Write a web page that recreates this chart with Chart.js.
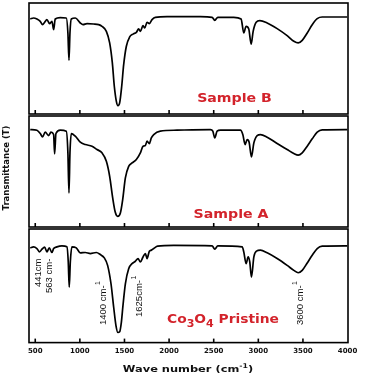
<!DOCTYPE html>
<html>
<head>
<meta charset="utf-8">
<script src="https://cdn.jsdelivr.net/npm/chart.js@4.4.0/dist/chart.umd.min.js"></script>
<style>
  html, body { margin: 0; padding: 0; background: #fff; }
  #wrap { position: relative; width: 365px; height: 379px; overflow: hidden; }
  #wrap canvas { position: absolute; left: 0; }
</style>
</head>
<body>
<div id="wrap">
  <canvas id="panelB" width="365" height="116" style="top:0px"></canvas>
  <canvas id="panelA" width="365" height="116" style="top:114px"></canvas>
  <canvas id="panelP" width="365" height="153" style="top:226px"></canvas>
</div>
<script>
// sumbu x (wave number, cm-1)
const xMin = 430;
const xMax = 4005;
const tickVals = [500, 1000, 1500, 2000, 2500, 3000, 3500, 4000];

// Sample B
const wnB = [444, 481, 519, 556, 582, 605, 631, 661, 687, 706, 724, 780, 848, 866, 878, 889, 904, 949, 1005, 1035,
  1080, 1154, 1211, 1248, 1297, 1334, 1364, 1386, 1409, 1427, 1446, 1469, 1491, 1521, 1558, 1596, 1633, 1659, 1678, 1708,
  1727, 1753, 1779, 1809, 1846, 1977, 2351, 2482, 2512, 2546, 2725, 2807, 2837, 2863, 2893, 2920, 2942, 2976, 3017, 3099,
  3211, 3323, 3398, 3447, 3492, 3548, 3604, 3660, 3716, 3997];
const tB = [85.6, 86.5, 85.6, 83.5, 80.5, 82.6, 85.0, 81.4, 83.5, 76.0, 85.6, 86.8, 86.5, 73, 48.3, 73, 85.6, 86.5, 82, 80.5,
  81.4, 81.1, 80.5, 79, 74.5, 64, 46, 25, 11.4, 7.5, 10, 25, 44.4, 61, 69.4, 72, 73.6, 76.6, 74.5, 79.6,
  77.5, 82.6, 81.4, 85, 87.1, 87.7, 87.7, 87.1, 84.4, 87.1, 87.1, 85.6, 73, 79, 76.6, 63, 74.5, 82.6, 84.1, 82,
  76.9, 70.6, 65.5, 64, 66.4, 73, 80.5, 85.9, 87.4, 87.4];

// Sample A
const wnA = [444, 519, 556, 582, 612, 650, 676, 706, 717, 732, 780, 848, 866, 878, 889, 904, 949, 1005, 1061, 1136,
  1192, 1248, 1297, 1334, 1368, 1397, 1424, 1454, 1480, 1510, 1547, 1585, 1633, 1678, 1708, 1734, 1753, 1779, 1801, 1828,
  1902, 2089, 2463, 2490, 2512, 2538, 2576, 2800, 2826, 2852, 2875, 2897, 2923, 2950, 2987, 3024, 3099, 3211, 3323, 3398,
  3447, 3492, 3548, 3604, 3660, 3716, 3997];
const tA = [87.8, 87.2, 84.2, 81.2, 85.4, 82.4, 85.4, 83.3, 65.9, 84.2, 87.2, 86.3, 66.8, 30.7, 66.8, 84.2, 81.8, 76.4, 74.3, 72.8,
  69.8, 66.8, 59.2, 45.7, 26.2, 13.2, 9.6, 12.6, 24.7, 44.2, 54.7, 57.7, 60.8, 66.8, 72.8, 73.4, 77.3, 75.2, 80.3, 83.3,
  86.3, 87.2, 87.8, 86.3, 80.2, 86.3, 87.2, 87.2, 83.3, 74.3, 78.8, 76.4, 63.2, 75.8, 82.4, 83.3, 80.9, 75.2, 69.8, 66.2,
  64.7, 66.8, 72.8, 79.4, 85.4, 87.5, 87.8];

// Co3O4 Pristine
const wnP = [444, 481, 519, 549, 575, 605, 631, 657, 687, 706, 743, 799, 855, 870, 881, 893, 911, 960, 1005, 1061,
  1117, 1184, 1229, 1274, 1311, 1349, 1379, 1405, 1427, 1446, 1465, 1483, 1510, 1547, 1585, 1622, 1652, 1678, 1708, 1734,
  1753, 1779, 1801, 1828, 1872, 2052, 2482, 2512, 2546, 2819, 2837, 2863, 2886, 2904, 2923, 2950, 2979, 3024, 3099, 3211,
  3323, 3398, 3447, 3492, 3548, 3604, 3660, 3716, 3997];
const tP = [83.4, 84.3, 82.8, 79.9, 82.2, 84, 79.9, 83.4, 79.3, 82.8, 84.3, 85.2, 84.3, 71, 48.8, 71, 84.3, 83.4, 79, 79.3,
  78.4, 79.3, 77.5, 74.6, 68, 51.8, 31.1, 14.8, 8.9, 9.5, 17.8, 32.5, 51.8, 65.1, 69.5, 71.6, 74, 71, 75.4, 78.4,
  74, 80.5, 81.4, 82.8, 84.9, 85.5, 85.2, 82.2, 85.2, 84.3, 79.9, 69.5, 75.4, 71, 57.7, 75.4, 80.5, 81.4, 79, 74,
  68, 63.6, 61.5, 63.6, 70.1, 76.9, 82.8, 84.9, 85.2];

const RED = '#d3232b';

// bingkai + tick ke dalam di bawah tiap panel
const framePlugin = {
  id: 'frame',
  afterDraw(chart) {
    const { ctx, chartArea: a, scales: { x } } = chart;
    ctx.save();
    ctx.strokeStyle = '#000';
    ctx.lineWidth = 1.6;
    ctx.strokeRect(a.left, a.top, a.right - a.left, a.bottom - a.top);
    tickVals.forEach(v => {
      const px = x.getPixelForValue(v);
      if (px > a.left + 2 && px < a.right - 2) {
        ctx.beginPath();
        ctx.moveTo(px, a.bottom);
        ctx.lineTo(px, a.bottom - 4);
        ctx.stroke();
      }
    });
    ctx.restore();
  }
};

// teks merah dengan subscript, sedikit melebar
function redLabel(ctx, parts, cx, base, size, sx) {
  ctx.save();
  ctx.fillStyle = RED;
  ctx.textBaseline = 'alphabetic';
  ctx.textAlign = 'left';
  let total = 0;
  parts.forEach(p => {
    ctx.font = 'bold ' + (p.sub ? size * 0.8 : size) + 'px "DejaVu Sans"';
    total += ctx.measureText(p.t).width;
  });
  ctx.translate(cx - total * sx / 2, base);
  ctx.scale(sx, 1);
  let x = 0;
  parts.forEach(p => {
    ctx.font = 'bold ' + (p.sub ? size * 0.8 : size) + 'px "DejaVu Sans"';
    ctx.fillText(p.t, x, p.sub ? 3.5 : 0);
    x += ctx.measureText(p.t).width;
  });
  ctx.restore();
}

// label puncak, diputar vertikal
function peakLabel(ctx, text, sup, x, y) {
  ctx.save();
  ctx.translate(x, y);
  ctx.rotate(-Math.PI / 2);
  ctx.fillStyle = '#111';
  ctx.font = '9.5px "Liberation Sans"';
  ctx.textBaseline = 'middle';
  ctx.textAlign = 'left';
  ctx.fillText(text, 0, 0);
  if (sup) {
    const w = ctx.measureText(text).width;
    ctx.font = '7px "Liberation Sans"';
    ctx.fillText(sup, w + 0.5, -4.5);
  }
  ctx.restore();
}

function makePanel(id, wn, tr, pad, showAxis, extra) {
  return new Chart(document.getElementById(id), {
    type: 'line',
    data: {
      datasets: [{
        data: wn.map((w, i) => ({ x: w, y: tr[i] })),
        borderColor: '#000',
        borderWidth: 1.7,
        pointRadius: 0,
        cubicInterpolationMode: 'monotone',
        fill: false
      }]
    },
    options: {
      responsive: false,
      animation: false,
      events: [],
      layout: { padding: pad },
      plugins: { legend: { display: false }, tooltip: { enabled: false } },
      scales: {
        x: {
          type: 'linear', min: xMin, max: xMax, display: showAxis,
          grid: { display: false, drawTicks: false },
          border: { display: false },
          afterBuildTicks: s => { s.ticks = tickVals.map(v => ({ value: v })); },
          ticks: {
            padding: 4, color: '#111', maxRotation: 0, autoSkip: false,
            font: { family: 'DejaVu Sans', weight: 'bold', size: 7 },
            callback: v => String(v)
          }
        },
        y: { display: false, min: 0, max: 100 }
      }
    },
    plugins: [framePlugin, extra]
  });
}

makePanel('panelB', wnB, tB, { top: 3, bottom: 2, left: 29, right: 17 }, false, {
  id: 'lblB',
  afterDraw(chart) {
    redLabel(chart.ctx, [{ t: 'Sample B' }], 234.5, 102, 12.3, 1.15);
  }
});

makePanel('panelA', wnA, tA, { top: 2, bottom: 3, left: 29, right: 17 }, false, {
  id: 'lblA',
  afterDraw(chart) {
    const ctx = chart.ctx;
    redLabel(ctx, [{ t: 'Sample A' }], 231, 217.5 - 114, 12.3, 1.15);
    // judul sumbu y
    ctx.save();
    ctx.translate(7, 168 - 114);
    ctx.rotate(-Math.PI / 2);
    ctx.fillStyle = '#111';
    ctx.font = 'bold 8.5px "DejaVu Sans"';
    ctx.textAlign = 'center';
    ctx.textBaseline = 'middle';
    ctx.fillText('Transmittance (T)', 0, 0);
    ctx.restore();
  }
});

const offP = 226;
makePanel('panelP', wnP, tP, { top: 3, bottom: 20, left: 29, right: 17 }, true, {
  id: 'lblP',
  afterDraw(chart) {
    const ctx = chart.ctx;
    redLabel(ctx, [{ t: 'Co' }, { t: '3', sub: true }, { t: 'O' }, { t: '4', sub: true }, { t: ' Pristine' }],
      223, 323 - offP, 12, 1.15);
    peakLabel(ctx, '441cm', null, 38, 287 - offP);
    peakLabel(ctx, '563 cm-', null, 49, 293 - offP);
    peakLabel(ctx, '1400 cm-', '1', 103, 325 - offP);
    peakLabel(ctx, '1625cm-', '1', 139, 317 - offP);
    peakLabel(ctx, '3600 cm-', '1', 300, 325 - offP);
    // judul sumbu x dengan superscript
    ctx.save();
    ctx.fillStyle = '#111';
    ctx.textBaseline = 'alphabetic';
    ctx.textAlign = 'left';
    const size = 9.5, sx = 1.2;
    const p1 = 'Wave number (cm', p2 = '-1', p3 = ')';
    ctx.font = 'bold ' + size + 'px "DejaVu Sans"';
    const w1 = ctx.measureText(p1).width, w3 = ctx.measureText(p3).width;
    ctx.font = 'bold 6.5px "DejaVu Sans"';
    const w2 = ctx.measureText(p2).width;
    const total = (w1 + w2 + w3) * sx;
    ctx.translate(188 - total / 2, 372 - offP);
    ctx.scale(sx, 1);
    ctx.font = 'bold ' + size + 'px "DejaVu Sans"';
    ctx.fillText(p1, 0, 0);
    ctx.font = 'bold 6.5px "DejaVu Sans"';
    ctx.fillText(p2, w1, -4);
    ctx.font = 'bold ' + size + 'px "DejaVu Sans"';
    ctx.fillText(p3, w1 + w2, 0);
    ctx.restore();
  }
});
</script>
</body>
</html>
